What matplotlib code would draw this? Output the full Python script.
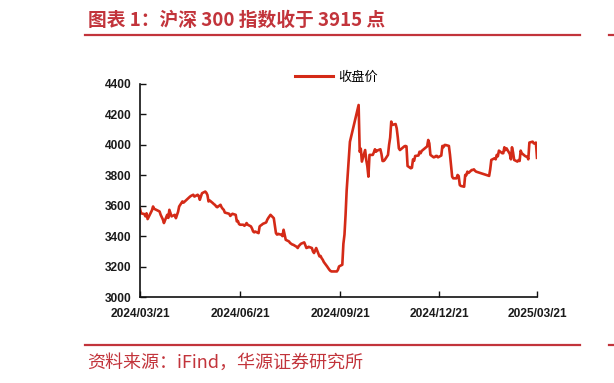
import pandas as pd
import matplotlib
matplotlib.use("Agg")
from matplotlib import pyplot as plt
import matplotlib.dates as mdates
from matplotlib.lines import Line2D

# CSI 300 closing prices
dates = [
    "2024-03-21", "2024-03-22", "2024-03-25", "2024-03-26", "2024-03-27", "2024-03-28",
    "2024-04-01", "2024-04-02", "2024-04-03", "2024-04-08", "2024-04-09", "2024-04-11",
    "2024-04-12", "2024-04-15", "2024-04-16", "2024-04-17", "2024-04-19", "2024-04-22",
    "2024-04-23", "2024-04-25", "2024-04-26", "2024-04-29", "2024-04-30", "2024-05-06",
    "2024-05-07", "2024-05-09", "2024-05-10", "2024-05-13", "2024-05-14", "2024-05-15",
    "2024-05-16", "2024-05-17", "2024-05-20", "2024-05-21", "2024-05-22", "2024-05-23",
    "2024-05-24", "2024-05-27", "2024-05-28", "2024-05-29", "2024-05-30", "2024-05-31",
    "2024-06-03", "2024-06-04", "2024-06-05", "2024-06-06", "2024-06-07", "2024-06-11",
    "2024-06-12", "2024-06-13", "2024-06-14", "2024-06-17", "2024-06-18", "2024-06-19",
    "2024-06-20", "2024-06-21", "2024-06-24", "2024-06-25", "2024-06-26", "2024-06-27",
    "2024-06-28", "2024-07-01", "2024-07-02", "2024-07-03", "2024-07-04", "2024-07-05",
    "2024-07-08", "2024-07-09", "2024-07-10", "2024-07-11", "2024-07-12", "2024-07-15",
    "2024-07-16", "2024-07-17", "2024-07-18", "2024-07-19", "2024-07-22", "2024-07-23",
    "2024-07-24", "2024-07-25", "2024-07-26", "2024-07-29", "2024-07-30", "2024-07-31",
    "2024-08-01", "2024-08-02", "2024-08-05", "2024-08-06", "2024-08-07", "2024-08-08",
    "2024-08-09", "2024-08-12", "2024-08-13", "2024-08-14", "2024-08-15", "2024-08-16",
    "2024-08-19", "2024-08-20", "2024-08-21", "2024-08-22", "2024-08-23", "2024-08-26",
    "2024-08-27", "2024-08-28", "2024-08-29", "2024-08-30", "2024-09-02", "2024-09-03",
    "2024-09-04", "2024-09-05", "2024-09-06", "2024-09-09", "2024-09-10", "2024-09-11",
    "2024-09-12", "2024-09-13", "2024-09-18", "2024-09-19", "2024-09-20", "2024-09-23",
    "2024-09-24", "2024-09-25", "2024-09-26", "2024-09-27", "2024-09-30", "2024-10-08",
    "2024-10-09", "2024-10-10", "2024-10-11", "2024-10-14", "2024-10-15", "2024-10-16",
    "2024-10-17", "2024-10-18", "2024-10-21", "2024-10-22", "2024-10-23", "2024-10-24",
    "2024-10-25", "2024-10-28", "2024-10-29", "2024-10-30", "2024-10-31", "2024-11-01",
    "2024-11-04", "2024-11-05", "2024-11-06", "2024-11-07", "2024-11-08", "2024-11-11",
    "2024-11-12", "2024-11-13", "2024-11-14", "2024-11-15", "2024-11-18", "2024-11-19",
    "2024-11-20", "2024-11-21", "2024-11-22", "2024-11-25", "2024-11-26", "2024-11-27",
    "2024-11-28", "2024-11-29", "2024-12-02", "2024-12-03", "2024-12-04", "2024-12-05",
    "2024-12-06", "2024-12-09", "2024-12-10", "2024-12-11", "2024-12-12", "2024-12-13",
    "2024-12-16", "2024-12-17", "2024-12-18", "2024-12-19", "2024-12-20", "2024-12-23",
    "2024-12-24", "2024-12-25", "2024-12-26", "2024-12-27", "2024-12-30", "2024-12-31",
    "2025-01-02", "2025-01-03", "2025-01-06", "2025-01-07", "2025-01-08", "2025-01-09",
    "2025-01-10", "2025-01-13", "2025-01-14", "2025-01-15", "2025-01-16", "2025-01-17",
    "2025-01-20", "2025-01-21", "2025-01-22", "2025-01-23", "2025-01-24", "2025-01-27",
    "2025-02-05", "2025-02-06", "2025-02-07", "2025-02-10", "2025-02-11", "2025-02-12",
    "2025-02-13", "2025-02-14", "2025-02-17", "2025-02-18", "2025-02-19", "2025-02-20",
    "2025-02-21", "2025-02-24", "2025-02-25", "2025-02-26", "2025-02-27", "2025-02-28",
    "2025-03-03", "2025-03-04", "2025-03-05", "2025-03-06", "2025-03-07", "2025-03-10",
    "2025-03-11", "2025-03-12", "2025-03-13", "2025-03-14", "2025-03-17", "2025-03-18",
    "2025-03-19", "2025-03-20", "2025-03-21",
]
close = [
    3580, 3550, 3545, 3530, 3550, 3512,
    3570, 3595, 3580, 3562, 3540, 3510,
    3486, 3540, 3520, 3573, 3530, 3540,
    3518, 3560, 3595, 3628, 3620, 3660,
    3665, 3672, 3660, 3672, 3665, 3639,
    3660, 3682, 3693, 3685, 3670, 3628,
    3635, 3617, 3610, 3605, 3595, 3590,
    3606, 3590, 3580, 3573, 3555, 3547,
    3533, 3540, 3547, 3540, 3497, 3500,
    3480, 3475, 3475, 3468, 3475, 3486,
    3475, 3464, 3450, 3431, 3425, 3430,
    3420, 3464, 3470, 3475, 3481, 3490,
    3508, 3520, 3530, 3540, 3518, 3470,
    3420, 3410, 3415, 3409, 3400, 3442,
    3410, 3376, 3365, 3355, 3350, 3345,
    3343, 3330, 3322, 3335, 3343, 3350,
    3359, 3340, 3322, 3325, 3330, 3322,
    3300, 3289, 3305, 3322, 3267, 3270,
    3255, 3245, 3230, 3201, 3190, 3180,
    3172, 3168, 3168, 3179, 3201, 3212,
    3350, 3410, 3540, 3700, 4020, 4262,
    3955, 3975, 3890, 3966, 3901, 3860,
    3791, 3934, 3934, 3950, 3971, 3955,
    3962, 3971, 3940, 3894, 3894, 3901,
    3934, 4000, 4048, 4153, 4131, 4137,
    4109, 4050, 3977, 3966, 3984, 3990,
    3993, 3990, 3861, 3846, 3850, 3905,
    3895, 3927, 3930, 3955, 3945, 3960,
    3966, 3984, 3990, 4032, 4010, 3934,
    3918, 3920, 3927, 3927, 3918, 3930,
    3993, 3985, 3999, 3999, 3993, 3935,
    3791, 3780, 3780, 3802, 3795, 3736,
    3730, 3725, 3802, 3800, 3824, 3815,
    3835, 3835, 3839, 3830, 3824, 3817,
    3796, 3840, 3901, 3912, 3905, 3934,
    3925, 3962, 3945, 3945, 3984, 3965,
    3977, 3940, 3905, 3984, 3950, 3901,
    3890, 3900, 3894, 3962, 3945, 3927,
    3923, 3923, 3905, 4015, 4021, 4010,
    4010, 4015, 3915,
]
tick_dates = ["2024-03-21", "2024-06-21", "2024-09-21", "2024-12-21", "2025-03-21"]
y_ticks = [3000, 3200, 3400, 3600, 3800, 4000, 4200, 4400]

title = "图表 1：沪深 300 指数收于 3915 点"
source = "资料来源：iFind，华源证券研究所"
series_name = "收盘价"

red = "#c2343b"
line_red = "#d42a17"
cjk = ["Noto Sans CJK SC", "DejaVu Sans"]

df = pd.DataFrame({"date": pd.to_datetime(dates), "close": close})

fig = plt.figure(figsize=(6.14, 3.83), dpi=100)
ax = fig.add_axes([140 / 614, 1 - 297 / 383, 397 / 614, 213 / 383])

ax.plot(df.date, df.close, color=line_red, lw=1.9, solid_joinstyle="round")

ax.set_xlim(pd.Timestamp(tick_dates[0]), pd.Timestamp(tick_dates[-1]))
ax.set_ylim(3000, 4400)
ax.set_yticks(y_ticks)
ax.set_xticks(pd.to_datetime(tick_dates))
ax.xaxis.set_major_formatter(mdates.DateFormatter("%Y/%m/%d"))

for s in ["top", "right"]:
    ax.spines[s].set_visible(False)
for s in ["left", "bottom"]:
    ax.spines[s].set_linewidth(1.2)
    ax.spines[s].set_color("#111111")

ax.tick_params(axis="both", direction="in", length=4, width=1.0, color="#111111",
               labelsize=8.6, pad=6)
ax.tick_params(axis="x", pad=8)
for lab in ax.get_xticklabels() + ax.get_yticklabels():
    lab.set_fontfamily("Liberation Sans")
    lab.set_fontweight("bold")
    lab.set_color("#1a1a1a")

handle = Line2D([], [], color=line_red, lw=2.2)
ax.legend([handle], [series_name], loc="center left", bbox_to_anchor=(0.36, 1.03),
          frameon=False, handlelength=2.9, handletextpad=0.4,
          prop={"family": cjk, "size": 9.5})

# header and footer of the report page
fig.text(88 / 614, 1 - 20 / 383, title, color=red, fontsize=13.5, fontweight="bold",
         family=cjk, va="center", ha="left")
fig.add_artist(Line2D([85 / 614, 580 / 614], [1 - 34.5 / 383] * 2, color=red, lw=1.6))
fig.add_artist(Line2D([609 / 614, 614 / 614], [1 - 34.5 / 383] * 2, color=red, lw=1.6))
fig.add_artist(Line2D([85 / 614, 580 / 614], [1 - 345 / 383] * 2, color=red, lw=1.6))
fig.add_artist(Line2D([609 / 614, 614 / 614], [1 - 345 / 383] * 2, color=red, lw=1.6))
fig.text(87 / 614, 1 - 363 / 383, source, color=red, fontsize=13, family=cjk,
         va="center", ha="left")

fig.savefig("out.png", dpi=100)
